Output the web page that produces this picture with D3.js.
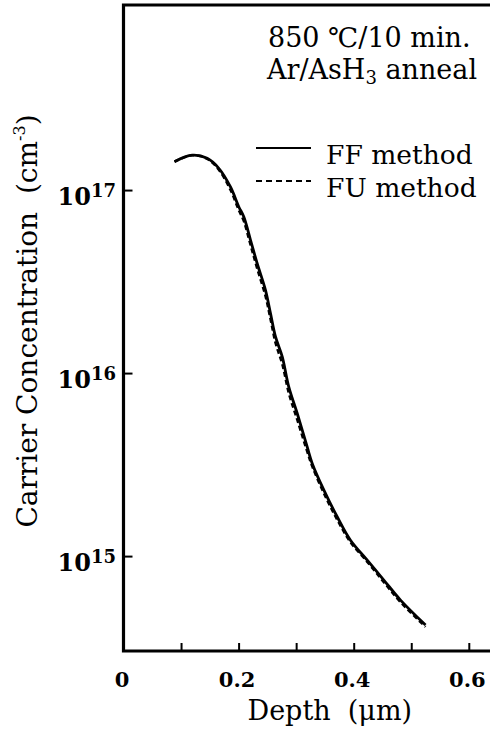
<!DOCTYPE html>
<html>
<head>
<meta charset="utf-8">
<script src="https://cdn.jsdelivr.net/npm/d3@7"></script>
<style>
  html, body { margin: 0; padding: 0; background: #fff; }
  svg { display: block; }
  text { font-family: "DejaVu Serif", "Liberation Serif", serif; fill: #000; white-space: pre; }
</style>
</head>
<body>
<svg id="chart" width="490" height="729"></svg>
<script>
// ---- data ----
const depth = [0.0886, 0.1194, 0.1454, 0.1656, 0.1859, 0.2003, 0.209, 0.2207, 0.2323, 0.2467,
               0.2554, 0.2641, 0.2758, 0.2872, 0.3018, 0.3192, 0.3279, 0.348, 0.3713, 0.3944,
               0.4235, 0.4523, 0.4813, 0.5248];
const ffMethod = [1.43e17, 1.55e17, 1.49e17, 1.315e17, 1.04e17, 8.11e16, 7.14e16, 5.33e16, 3.97e16, 2.84e16,
                  2.12e16, 1.58e16, 1.23e16, 8.41e15, 6.03e15, 3.95e15, 3.21e15, 2.30e15, 1.64e15, 1.22e15,
                  9.5e14, 7.4e14, 5.75e14, 4.2e14];
const fuMethod = [1.43e17, 1.55e17, 1.48e17, 1.29e17, 1.00e17, 7.76e16, 6.76e16, 5.01e16, 3.72e16, 2.63e16,
                  1.97e16, 1.46e16, 1.12e16, 7.76e15, 5.56e15, 3.72e15, 3.09e15, 2.21e15, 1.58e15, 1.19e15,
                  9.3e14, 7.2e14, 5.6e14, 4.1e14];
const xTicks = [0, 0.1, 0.2, 0.3, 0.4, 0.5, 0.6];
const xTickLabels = ["0", "", "0.2", "", "0.4", "", "0.6"];
const yTicks = [1e15, 1e16, 1e17];
const yTickExponents = ["15", "16", "17"];
const seriesNames = ["FF method", "FU method"];
const annotation = ["850 \u2103/10 min.", "Ar/AsH", "3", " anneal"];
const xTitle = "Depth  (\u03bcm)";
const yTitle = ["Carrier Concentration  (cm", "-3", ")"];

// ---- layout ----
const svg = d3.select("#chart");
const mLeft = 123.5, mBottom = 651, mTop = 5, mRight = 498;

const x = d3.scaleLinear().domain([0, 0.65]).range([mLeft, mLeft + 0.65 * 575.5]);
const y = d3.scaleLog().domain([3.03e14, 1.026e18]).range([mBottom, mTop]);

// frame
svg.append("path")
  .attr("d", `M${mRight},${mTop}H${mLeft}V${mBottom}H${mRight}`)
  .attr("fill", "none").attr("stroke", "#000").attr("stroke-width", 3.2);

// x axis
const xAxis = d3.axisBottom(x).tickValues(xTicks)
  .tickSizeInner(-8).tickSizeOuter(0).tickPadding(21)
  .tickFormat((d, i) => xTickLabels[i]);
const gx = svg.append("g").attr("transform", `translate(0,${mBottom})`).call(xAxis);
gx.select(".domain").remove();
gx.selectAll(".tick line").attr("stroke", "#000").attr("stroke-width", 2);
gx.selectAll(".tick text").attr("font-family", "DejaVu Serif").attr("font-weight", "bold")
  .attr("font-size", 21).attr("fill", "#000").attr("dx", -2);

// y axis
const yAxis = d3.axisLeft(y).tickValues(yTicks).tickSizeInner(-9).tickSizeOuter(0).tickFormat("");
const gy = svg.append("g").attr("transform", `translate(${mLeft},0)`).call(yAxis);
gy.select(".domain").remove();
gy.selectAll(".tick line").attr("stroke", "#000").attr("stroke-width", 2);

const yl = svg.append("g").selectAll("text").data(yTicks).join("text")
  .attr("x", 116).attr("y", d => y(d) + 15)
  .attr("text-anchor", "end").attr("font-weight", "bold");
yl.append("tspan").attr("font-size", 24).text("10");
yl.append("tspan").attr("font-size", 18).attr("dy", -8.5).text((d, i) => yTickExponents[i]);

// curves
const line = d3.line().x(d => x(d[0])).y(d => y(d[1])).curve(d3.curveCatmullRom.alpha(0.5));
svg.append("path").datum(depth.map((d, i) => [d, fuMethod[i]]))
  .attr("d", line).attr("fill", "none").attr("stroke", "#000")
  .attr("stroke-width", 2.4).attr("stroke-dasharray", "5,3");
svg.append("path").datum(depth.map((d, i) => [d, ffMethod[i]]))
  .attr("d", line).attr("fill", "none").attr("stroke", "#000")
  .attr("stroke-width", 2.8);

// annotation
svg.append("text").attr("x", 268).attr("y", 47).attr("font-size", 27).text(annotation[0]);
const t2 = svg.append("text").attr("x", 267).attr("y", 79).attr("font-size", 27);
t2.append("tspan").text(annotation[1]);
t2.append("tspan").attr("font-size", 18).attr("dy", 5).text(annotation[2]);
t2.append("tspan").attr("dy", -5).text(annotation[3]);

// legend
const legY = [148, 181];
const legDash = [null, "6,4"];
seriesNames.forEach((name, i) => {
  svg.append("line").attr("x1", 256).attr("x2", 311).attr("y1", legY[i]).attr("y2", legY[i])
    .attr("stroke", "#000").attr("stroke-width", 1.8).attr("stroke-dasharray", legDash[i]);
  svg.append("text").attr("x", 326).attr("y", legY[i] + 16).attr("font-size", 26.5).text(name);
});

// axis titles
svg.append("text").attr("x", (mLeft + 490) / 2 + 23).attr("y", 720)
  .attr("text-anchor", "middle").attr("font-size", 27).text(xTitle);

const yt = svg.append("text").attr("transform", "translate(37,321) rotate(-90)")
  .attr("text-anchor", "middle").attr("font-size", 28);
yt.append("tspan").text(yTitle[0]);
yt.append("tspan").attr("font-size", 16).attr("dy", -12).text(yTitle[1]);
yt.append("tspan").attr("dy", 12).text(yTitle[2]);
</script>
</body>
</html>
